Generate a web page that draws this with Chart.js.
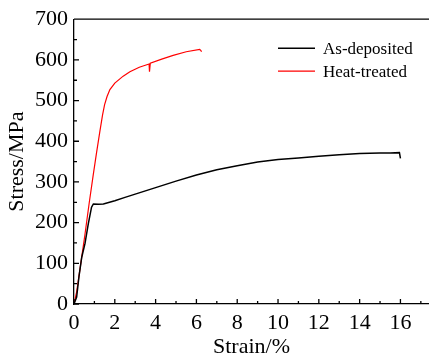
<!DOCTYPE html>
<html>
<head>
<meta charset="utf-8">
<script src="https://cdn.jsdelivr.net/npm/chart.js@4/dist/chart.umd.min.js"></script>
<style>
  body { margin: 0; background: #fff; }
  canvas { display: block; }
</style>
</head>
<body>
<canvas id="grafico" width="429" height="362"></canvas>
<script>
// curva del material en estado de deposición
const asStrain = [0, 0.13, 0.25, 0.38, 0.54, 0.7, 0.86, 0.95, 1.2, 1.44, 2, 2.5, 3, 3.5, 4, 4.5, 5, 6, 7, 8, 9, 10, 11, 12, 13, 14, 15, 15.5, 15.95, 16.0];
const asStress = [0, 17, 70, 115, 149, 197, 238, 246, 245, 246, 254, 262, 270, 278, 286, 294, 302, 317, 330, 340, 349, 355, 359, 363, 367, 370, 371, 371, 372, 358];

// curva tras el tratamiento térmico
const htStrain = [0, 0.13, 0.3, 0.54, 0.75, 0.95, 1.1, 1.27, 1.4, 1.5, 1.62, 1.76, 2.0, 2.41, 2.74, 3.2, 3.68, 3.7, 3.74, 4.3, 4.86, 5.5, 6.16, 6.22, 6.25];
const htStress = [0, 30, 88, 172, 250, 320, 370, 425, 465, 490, 510, 527, 543, 560, 571, 582, 590, 571, 592, 602, 611, 620, 626, 623, 620];

const seriesNames = ['As-deposited', 'Heat-treated'];
const seriesColors = ['#000000', '#ff0000'];

const xTicks = [0, 2, 4, 6, 8, 10, 12, 14, 16];
const yTicks = [0, 100, 200, 300, 400, 500, 600, 700];
const xMinorStep = 1, xMax = 17.4;
const yMinorStep = 50, yMax = 700;

const fuente = '"Liberation Serif", "Times New Roman", serif';

function puntos(xs, ys) {
  return xs.map((x, i) => ({ x: x, y: ys[i] }));
}

// marcas hacia dentro, línea superior y leyenda
const decoracion = {
  id: 'decoracion',
  afterDraw(chart) {
    const { ctx, chartArea: a, scales: { x, y } } = chart;
    ctx.save();
    ctx.strokeStyle = '#000';
    ctx.lineWidth = 1.3;
    ctx.beginPath();
    ctx.moveTo(a.left, a.top);
    ctx.lineTo(a.right, a.top);
    for (let v = 0; v <= xMax; v += xMinorStep) {
      const px = x.getPixelForValue(v);
      const len = xTicks.includes(v) ? 5 : 3;
      ctx.moveTo(px, a.bottom);
      ctx.lineTo(px, a.bottom - len);
    }
    for (let v = 0; v <= yMax; v += yMinorStep) {
      const py = y.getPixelForValue(v);
      const len = yTicks.includes(v) ? 5 : 3;
      ctx.moveTo(a.left, py);
      ctx.lineTo(a.left + len, py);
    }
    ctx.stroke();

    ctx.font = '17px ' + fuente;
    ctx.textBaseline = 'middle';
    ctx.fillStyle = '#000';
    seriesNames.forEach((name, i) => {
      const yy = a.top + 29 + i * 23;
      ctx.strokeStyle = seriesColors[i];
      ctx.lineWidth = i === 0 ? 1.5 : 1.2;
      ctx.beginPath();
      ctx.moveTo(a.right - 151, yy);
      ctx.lineTo(a.right - 114, yy);
      ctx.stroke();
      ctx.fillText(name, a.right - 106, yy + 1);
    });
    ctx.restore();
  }
};

new Chart(document.getElementById('grafico'), {
  type: 'scatter',
  data: {
    datasets: [
      {
        label: seriesNames[0],
        data: puntos(asStrain, asStress),
        showLine: true,
        borderColor: seriesColors[0],
        borderWidth: 1.5,
        pointRadius: 0,
        tension: 0
      },
      {
        label: seriesNames[1],
        data: puntos(htStrain, htStress),
        showLine: true,
        borderColor: seriesColors[1],
        borderWidth: 1.2,
        pointRadius: 0,
        tension: 0
      }
    ]
  },
  options: {
    responsive: false,
    animation: false,
    layout: { padding: { top: 17, right: 0, left: 0, bottom: 0 } },
    plugins: { legend: { display: false }, tooltip: { enabled: false } },
    scales: {
      x: {
        type: 'linear',
        min: 0,
        max: xMax,
        grid: { drawOnChartArea: false, drawTicks: false },
        border: { display: true, color: '#000', width: 1.3 },
        afterBuildTicks: s => { s.ticks = xTicks.map(v => ({ value: v })); },
        ticks: {
          autoSkip: false,
          maxRotation: 0,
          color: '#000',
          padding: 6,
          font: { family: fuente, size: 22 }
        },
        title: {
          display: true,
          text: 'Strain/%',
          color: '#000',
          font: { family: fuente, size: 22 },
          padding: { top: 0, bottom: 2 }
        },
        afterFit: s => { s.height = 58; }
      },
      y: {
        type: 'linear',
        min: 0,
        max: yMax,
        grid: { drawOnChartArea: false, drawTicks: false },
        border: { display: true, color: '#000', width: 1.3 },
        afterBuildTicks: s => { s.ticks = yTicks.map(v => ({ value: v })); },
        ticks: {
          autoSkip: false,
          color: '#000',
          padding: 6,
          font: { family: fuente, size: 22 }
        },
        title: {
          display: true,
          text: 'Stress/MPa',
          color: '#000',
          font: { family: fuente, size: 22 },
          padding: { top: 4, bottom: 0 }
        },
        afterFit: s => { s.width = 74; }
      }
    }
  },
  plugins: [decoracion]
});
</script>
</body>
</html>
